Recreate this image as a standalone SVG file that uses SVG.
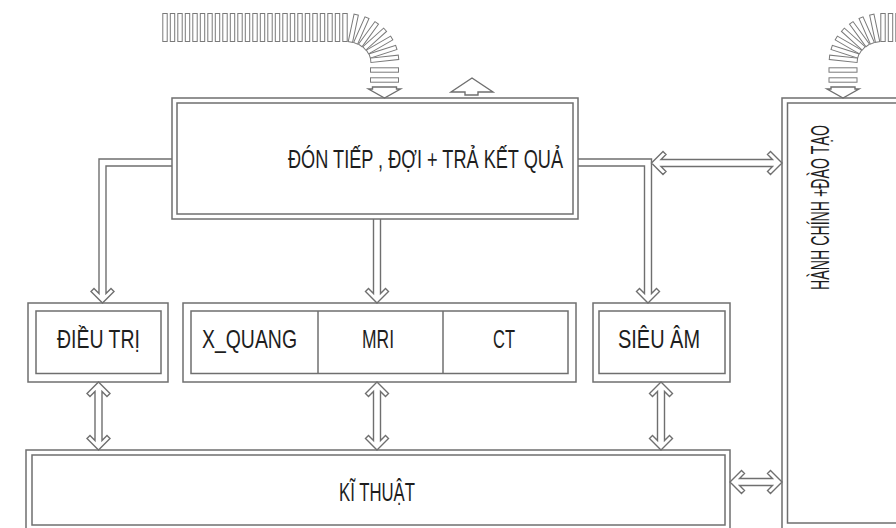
<svg xmlns="http://www.w3.org/2000/svg" xmlns:xlink="http://www.w3.org/1999/xlink" width="896" height="528" viewBox="0 0 896 528">
<style>
.ln{fill:none;stroke:#6f6f6f;stroke-width:1.5}
.bx{fill:none;stroke:#6f6f6f;stroke-width:1.5}
.ar{fill:#fff;stroke:#6f6f6f;stroke-width:1.4;stroke-linejoin:miter}
.br{fill:#fff;stroke:#7a7a7a;stroke-width:1}
.t{font-family:"Liberation Sans",Arial,sans-serif;font-size:26px;fill:#1e1e1e;text-anchor:middle}
</style>
<defs>
<rect id="bar" x="-2.2" y="-14" width="4.4" height="28"/>
</defs>
<rect width="896" height="528" fill="#fff"/>

<g id="flow-in-left" class="br">
<use xlink:href="#bar" transform="translate(165,27.5)"/>
<use xlink:href="#bar" transform="translate(172.5,27.5)"/>
<use xlink:href="#bar" transform="translate(180,27.5)"/>
<use xlink:href="#bar" transform="translate(187.5,27.5)"/>
<use xlink:href="#bar" transform="translate(195,27.5)"/>
<use xlink:href="#bar" transform="translate(202.5,27.5)"/>
<use xlink:href="#bar" transform="translate(210,27.5)"/>
<use xlink:href="#bar" transform="translate(217.5,27.5)"/>
<use xlink:href="#bar" transform="translate(225,27.5)"/>
<use xlink:href="#bar" transform="translate(232.5,27.5)"/>
<use xlink:href="#bar" transform="translate(240,27.5)"/>
<use xlink:href="#bar" transform="translate(247.5,27.5)"/>
<use xlink:href="#bar" transform="translate(255,27.5)"/>
<use xlink:href="#bar" transform="translate(262.5,27.5)"/>
<use xlink:href="#bar" transform="translate(270,27.5)"/>
<use xlink:href="#bar" transform="translate(277.5,27.5)"/>
<use xlink:href="#bar" transform="translate(285,27.5)"/>
<use xlink:href="#bar" transform="translate(292.5,27.5)"/>
<use xlink:href="#bar" transform="translate(300,27.5)"/>
<use xlink:href="#bar" transform="translate(307.5,27.5)"/>
<use xlink:href="#bar" transform="translate(315,27.5)"/>
<use xlink:href="#bar" transform="translate(322.5,27.5)"/>
<use xlink:href="#bar" transform="translate(330,27.5)"/>
<use xlink:href="#bar" transform="translate(337.5,27.5)"/>
<use xlink:href="#bar" transform="translate(345,27.5)"/>
<use xlink:href="#bar" transform="translate(353.3,28.3) rotate(12)"/>
<use xlink:href="#bar" transform="translate(361.3,30.5) rotate(24)"/>
<use xlink:href="#bar" transform="translate(368.5,34.2) rotate(36)"/>
<use xlink:href="#bar" transform="translate(374.7,39.1) rotate(48)"/>
<use xlink:href="#bar" transform="translate(379.6,45) rotate(60)"/>
<use xlink:href="#bar" transform="translate(383,51.7) rotate(72)"/>
<use xlink:href="#bar" transform="translate(384.6,58.8) rotate(84)"/>
<use xlink:href="#bar" transform="translate(384.5,70) rotate(90)"/>
<use xlink:href="#bar" transform="translate(384.5,80) rotate(90)"/>
<polygon class="ar" points="372.5,87 396.5,87 396.5,89 400.5,89 384.5,98 368.5,89 372.5,89"/>
</g>

<g id="flow-in-right" class="br">
<use xlink:href="#bar" transform="translate(883,27.5)"/>
<use xlink:href="#bar" transform="translate(890.5,27.5)"/>
<use xlink:href="#bar" transform="translate(898,27.5)"/>
<use xlink:href="#bar" transform="translate(874.7,28.3) rotate(-12)"/>
<use xlink:href="#bar" transform="translate(866.7,30.5) rotate(-24)"/>
<use xlink:href="#bar" transform="translate(859.5,34.2) rotate(-36)"/>
<use xlink:href="#bar" transform="translate(853.3,39.1) rotate(-48)"/>
<use xlink:href="#bar" transform="translate(848.4,45) rotate(-60)"/>
<use xlink:href="#bar" transform="translate(845,51.7) rotate(-72)"/>
<use xlink:href="#bar" transform="translate(843.4,58.8) rotate(-84)"/>
<use xlink:href="#bar" transform="translate(843,70) rotate(90)"/>
<use xlink:href="#bar" transform="translate(843,80) rotate(90)"/>
<polygon class="ar" points="831,87 855,87 855,89 859,89 843,98 827,89 831,89"/>
</g>

<g id="exit-arrow">
<polygon class="ar" points="472,78 493,92 478,92 478,95 465,95 465,92 451,92"/>
</g>

<g id="connectors">
<path class="ar" d="M172,159 H99 V293.5 L94,288.5 L91,291.5 L102.5,303 L114,291.5 L111,288.5 L106,293.5 V166 H172"/>
<path class="ar" d="M373.5,219 V293.5 L368.5,288.5 L365.5,291.5 L377,303 L388.5,291.5 L385.5,288.5 L380.5,293.5 V219"/>
<path class="ar" d="M578,159 H651.5 V293.5 L656.5,288.5 L659.5,291.5 L648,303 L636.5,291.5 L639.5,288.5 L644.5,293.5 V166 H578"/>
<path class="ar" d="M651.5,163 L663,151.5 L666,154.5 L661,159.5 H772.5 L767.5,154.5 L770.5,151.5 L782,163 L770.5,174.5 L767.5,171.5 L772.5,166.5 H661 L666,171.5 L663,174.5 Z"/>
<path class="ar" d="M98.5,382 L110,393.5 L107,396.5 L102,391.5 V440.5 L107,435.5 L110,438.5 L98.5,450 L87,438.5 L90,435.5 L95,440.5 V391.5 L90,396.5 L87,393.5 Z"/>
<path class="ar" d="M377,382 L388.5,393.5 L385.5,396.5 L380.5,391.5 V440.5 L385.5,435.5 L388.5,438.5 L377,450 L365.5,438.5 L368.5,435.5 L373.5,440.5 V391.5 L368.5,396.5 L365.5,393.5 Z"/>
<path class="ar" d="M661,382 L672.5,393.5 L669.5,396.5 L664.5,391.5 V440.5 L669.5,435.5 L672.5,438.5 L661,450 L649.5,438.5 L652.5,435.5 L657.5,440.5 V391.5 L652.5,396.5 L649.5,393.5 Z"/>
<path class="ar" d="M730,482 L741.5,470.5 L744.5,473.5 L739.5,478.5 H772.5 L767.5,473.5 L770.5,470.5 L782,482 L770.5,493.5 L767.5,490.5 L772.5,485.5 H739.5 L744.5,490.5 L741.5,493.5 Z"/>
</g>

<g id="reception">
<rect class="bx" x="172" y="98" width="406" height="121" fill="#fff"/>
<rect class="bx" x="177" y="103" width="396" height="111"/>
<text class="t" x="425.5" y="168" textLength="275" lengthAdjust="spacingAndGlyphs">ĐÓN TIẾP , ĐỢI + TRẢ KẾT QUẢ</text>
</g>

<g id="admin">
<rect class="bx" x="782" y="98" width="130" height="440" fill="#fff"/>
<rect class="bx" x="787.5" y="103" width="120" height="420"/>
<text class="t" transform="translate(829,207.5) rotate(-90)" x="0" y="0" textLength="165" lengthAdjust="spacingAndGlyphs">HÀNH CHÍNH +ĐÀO TẠO</text>
</g>

<g id="treatment">
<rect class="bx" x="28" y="303" width="140" height="79"/>
<rect class="bx" x="36" y="311" width="125" height="62.5"/>
<text class="t" x="98.5" y="348" textLength="83" lengthAdjust="spacingAndGlyphs">ĐIỀU TRỊ</text>
</g>

<g id="imaging">
<rect class="bx" x="183" y="303" width="393" height="79"/>
<rect class="bx" x="191" y="311" width="377" height="62.5"/>
<line class="ln" x1="318" y1="311" x2="318" y2="373.5"/>
<line class="ln" x1="443" y1="311" x2="443" y2="373.5"/>
<text class="t" x="249.5" y="348" textLength="95" lengthAdjust="spacingAndGlyphs">X_QUANG</text>
<text class="t" x="378" y="348" textLength="32" lengthAdjust="spacingAndGlyphs">MRI</text>
<text class="t" x="504" y="348" textLength="22" lengthAdjust="spacingAndGlyphs">CT</text>
</g>

<g id="ultrasound">
<rect class="bx" x="593" y="303" width="137" height="79"/>
<rect class="bx" x="599" y="311" width="126" height="62.5"/>
<text class="t" x="659" y="348" textLength="82" lengthAdjust="spacingAndGlyphs">SIÊU ÂM</text>
</g>

<g id="technical">
<rect class="bx" x="26" y="450" width="704" height="90"/>
<rect class="bx" x="32" y="455" width="693" height="70"/>
<text class="t" x="377" y="501" textLength="76" lengthAdjust="spacingAndGlyphs">KĨ THUẬT</text>
</g>
</svg>
